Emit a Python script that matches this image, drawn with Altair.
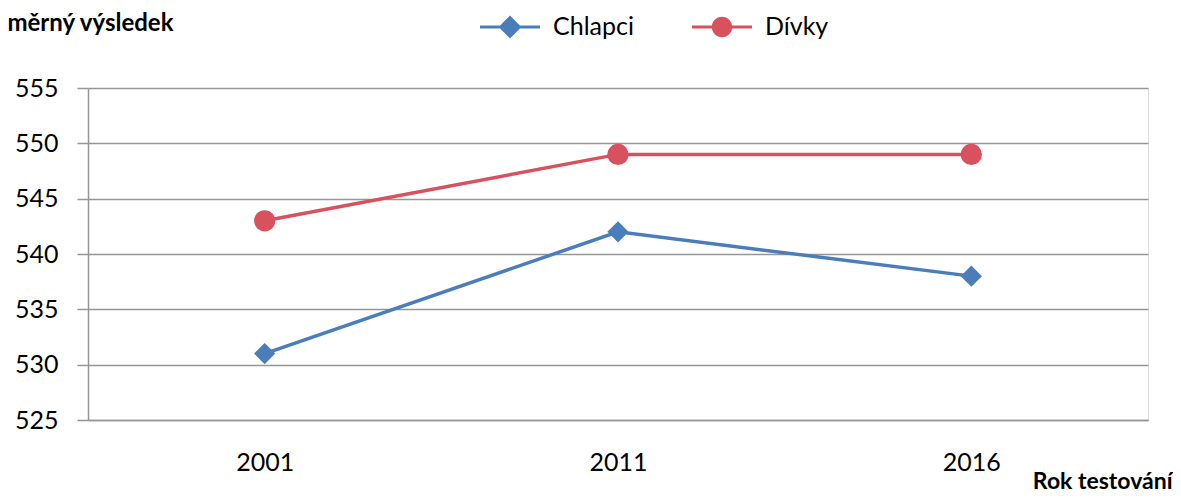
import altair as alt
import pandas as pd

years = ["2001", "2011", "2016"]
chlapci = [531, 542, 538]
divky = [543, 549, 549]
series = ["Chlapci", "Dívky"]
colors = ["#4a7ebb", "#d9505e"]
y_ticks = [525, 530, 535, 540, 545, 550, 555]

rows = []
for y, v in zip(years, chlapci):
    rows.append({"rok": y, "vysledek": v, "skupina": "Chlapci"})
for y, v in zip(years, divky):
    rows.append({"rok": y, "vysledek": v, "skupina": "Dívky"})
df = pd.DataFrame(rows)

FONT = "Lato"

diamond_path = "M-1,-0.05H1V0.05H-1Z M0,-0.38L0.38,0L0,0.38L-0.38,0Z"
circle_path = "M-1,-0.05H1V0.05H-1Z M0.34,0A0.34,0.34 0 1,1 -0.34,0A0.34,0.34 0 1,1 0.34,0Z"

x_enc = alt.X(
    "rok:O",
    scale=alt.Scale(type="point", padding=0.5),
    axis=alt.Axis(
        title="Rok testování",
        titleFont=FONT, titleFontSize=23, titleFontWeight="bold", titleColor="#000",
        titleAngle=0, titleAlign="right", titleBaseline="alphabetic",
        titleX=1084, titleY=68, titleAnchor="start",
        labelFont=FONT, labelFontSize=25, labelColor="#000", labelAngle=0,
        labelPadding=30, ticks=False, tickSize=0,
        domainColor="#969696", domainWidth=1.5, grid=False,
    ),
)
y_enc = alt.Y(
    "vysledek:Q",
    scale=alt.Scale(domain=[525, 555], nice=False, zero=False),
    axis=alt.Axis(
        title="Průměrný výsledek",
        titleFont=FONT, titleFontSize=24, titleFontWeight="bold", titleColor="#000",
        titleAngle=0, titleAlign="right", titleBaseline="alphabetic",
        titleX=85, titleY=-58, titleAnchor="start",
        values=y_ticks, labelFont=FONT, labelFontSize=25, labelColor="#000",
        labelPadding=19, tickSize=11, tickColor="#969696", tickWidth=1.5,
        domainColor="#969696", domainWidth=1.5,
        grid=True, gridColor="#969696", gridWidth=1.5,
    ),
)
color_scale = alt.Scale(domain=series, range=colors)

base = alt.Chart(df)
lines = base.mark_line(strokeWidth=3.5).encode(
    x=x_enc, y=y_enc, color=alt.Color("skupina:N", scale=color_scale, legend=None)
)
points = base.mark_point(filled=True, size=450, opacity=1).encode(
    x=x_enc,
    y=y_enc,
    color=alt.Color("skupina:N", scale=color_scale, legend=None),
    shape=alt.Shape("skupina:N", scale=alt.Scale(domain=series, range=["diamond", "circle"]), legend=None),
)

legend = alt.Legend(
    title=None, orient="none", direction="horizontal",
    legendX=392, legendY=-91,
    labelFont=FONT, labelFontSize=25, labelColor="#000",
    symbolSize=3600, labelOffset=13, columnPadding=58, padding=0,
    symbolStrokeWidth=0, symbolOpacity=1,
)
legend_layer = base.transform_filter("false").mark_point(filled=True, size=3600, opacity=1).encode(
    x=x_enc,
    y=y_enc,
    color=alt.Color("skupina:N", scale=color_scale, legend=legend),
    shape=alt.Shape("skupina:N", scale=alt.Scale(domain=series, range=[diamond_path, circle_path]), legend=legend),
)

chart = (
    alt.layer(lines, points, legend_layer)
    .resolve_scale(shape="independent", color="independent")
    .properties(
        width=1060,
        height=332,
        autosize=alt.AutoSizeParams(type="none"),
        padding={"left": 80, "top": 80, "right": 25, "bottom": 73},
    )
    .configure_view(stroke=None)
    .configure(background="white")
)

chart.save("out.html", embed_options={"renderer": "svg", "actions": False})
